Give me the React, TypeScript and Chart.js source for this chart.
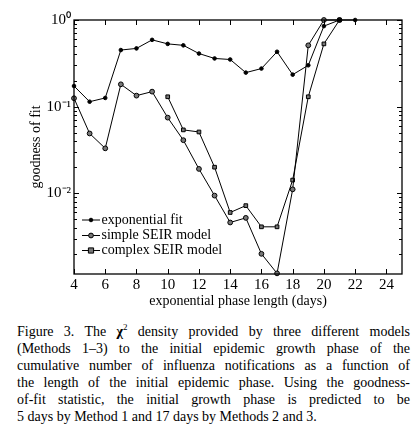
import React, { useEffect, useRef } from 'react';
import { Chart, registerables } from 'chart.js';

Chart.register(...registerables);

// ---- data ----
const expDays = [4, 5, 6, 7, 8, 9, 10, 11, 12, 13, 14, 15, 16, 17, 18, 19, 20, 21, 22];
const expFit = [0.173, 0.114, 0.126, 0.45, 0.47, 0.59, 0.53, 0.51, 0.41, 0.36, 0.35, 0.247, 0.275, 0.43, 0.234, 0.30, 0.85, 1.0, 1.0];

const simpleDays = [4, 5, 6, 7, 8, 9, 10, 11, 12, 13, 14, 15, 16, 17, 18, 19, 20, 21];
const simpleSEIR = [0.125, 0.049, 0.033, 0.181, 0.134, 0.149, 0.0747, 0.041, 0.0191, 0.0094, 0.0046, 0.0052, 0.0020, 0.00119, 0.0111, 0.51, 1.0, 1.0];

const complexDays = [10, 11, 12, 13, 14, 15, 16, 17, 18, 19, 20, 21];
const complexSEIR = [0.130, 0.0539, 0.051, 0.020, 0.0060, 0.0072, 0.0041, 0.0041, 0.0142, 0.13, 0.53, 1.0];

const seriesNames = ['exponential fit', 'simple SEIR model', 'complex SEIR model'];
const xTicks = [4, 6, 8, 10, 12, 14, 16, 18, 20, 22, 24];
const yTicks = [0.01, 0.1, 1];
const yTickLabels = ['10\u207B\u00B2', '10\u207B\u00B9', '10\u2070'];
const xTitle = 'exponential phase length (days)';
const yTitle = 'goodness of fit';

const SERIF = '"Liberation Serif", "Times New Roman", serif';

const toPoints = (xs: number[], ys: number[]) => xs.map((x, i) => ({ x, y: ys[i] }));

const pointStyles = [
  { style: 'circle', radius: 1.8, bg: '#000' },
  { style: 'circle', radius: 2.4, bg: '#777' },
  { style: 'rect', radius: 2.6, bg: '#777' },
];

const framePlugin = {
  id: 'frameTicks',
  afterDraw(chart: any) {
    const ctx = chart.ctx;
    const { left, right, top, bottom } = chart.chartArea;
    const xs = chart.scales.x;
    const ys = chart.scales.y;
    ctx.save();
    ctx.strokeStyle = '#000';
    ctx.lineWidth = 1;
    // x ticks inward top & bottom
    ctx.beginPath();
    xTicks.forEach((v) => {
      const px = Math.round(xs.getPixelForValue(v)) + 0.5;
      ctx.moveTo(px, bottom);
      ctx.lineTo(px, bottom - 5);
      ctx.moveTo(px, top);
      ctx.lineTo(px, top + 5);
    });
    // y ticks (major + minor)
    for (let d = -3; d <= 0; d++) {
      for (let m = 1; m <= 9; m++) {
        const v = m * Math.pow(10, d);
        if (v < ys.min || v > ys.max) continue;
        const py = Math.round(ys.getPixelForValue(v)) + 0.5;
        const len = m === 1 ? 5 : 3;
        ctx.moveTo(left, py);
        ctx.lineTo(left + len, py);
        ctx.moveTo(right, py);
        ctx.lineTo(right - len, py);
      }
    }
    ctx.stroke();
    ctx.lineWidth = 1.3;
    ctx.strokeRect(left, top, right - left, bottom - top);

    // legend
    const rows = [220, 235.5, 250.5];
    ctx.font = `14px ${SERIF}`;
    ctx.textBaseline = 'middle';
    ctx.fillStyle = '#000';
    rows.forEach((ry, i) => {
      ctx.lineWidth = 1;
      ctx.strokeStyle = '#000';
      ctx.beginPath();
      ctx.moveTo(82, ry);
      ctx.lineTo(100, ry);
      ctx.stroke();
      const ps = pointStyles[i];
      ctx.fillStyle = ps.bg;
      ctx.strokeStyle = '#000';
      ctx.beginPath();
      if (ps.style === 'rect') {
        ctx.rect(91 - ps.radius, ry - ps.radius, ps.radius * 2, ps.radius * 2);
      } else {
        ctx.arc(91, ry, ps.radius, 0, Math.PI * 2);
      }
      ctx.fill();
      ctx.stroke();
      ctx.fillStyle = '#000';
      ctx.fillText(seriesNames[i], 101.5, ry);
    });
    ctx.restore();
  },
};

function ChartView() {
  const ref = useRef<HTMLCanvasElement | null>(null);
  useEffect(() => {
    if (!ref.current) return;
    const datasets = [
      toPoints(expDays, expFit),
      toPoints(simpleDays, simpleSEIR),
      toPoints(complexDays, complexSEIR),
    ].map((data, i) => ({
      label: seriesNames[i],
      data,
      borderColor: '#000',
      borderWidth: 1,
      pointStyle: pointStyles[i].style,
      pointRadius: pointStyles[i].radius,
      pointBackgroundColor: pointStyles[i].bg,
      pointBorderColor: '#000',
      pointBorderWidth: 1,
      tension: 0,
      fill: false,
      clip: 4,
    }));
    const chart = new Chart(ref.current, {
      type: 'line',
      data: { datasets },
      plugins: [framePlugin],
      options: {
        animation: false,
        responsive: false,
        devicePixelRatio: 1,
        layout: { padding: { top: 20, right: 13, left: 0, bottom: 0 } },
        plugins: { legend: { display: false }, tooltip: { enabled: false } },
        scales: {
          x: {
            type: 'linear',
            min: 4,
            max: 25,
            grid: { display: false, drawTicks: false },
            border: { display: false },
            afterBuildTicks: (s: any) => { s.ticks = xTicks.map((v) => ({ value: v })); },
            afterFit: (s: any) => { s.height = 38; },
            ticks: {
              color: '#000',
              font: { family: SERIF, size: 15 },
              padding: 2,
              maxRotation: 0,
              autoSkip: false,
              callback: (v: any) => String(v),
            },
            title: {
              display: true,
              text: xTitle,
              color: '#000',
              font: { family: SERIF, size: 14 },
              padding: { top: 0, bottom: 2 },
            },
          },
          y: {
            type: 'logarithmic',
            min: 0.00117,
            max: 1,
            grid: { display: false, drawTicks: false },
            border: { display: false },
            afterBuildTicks: (s: any) => { s.ticks = yTicks.map((v) => ({ value: v })); },
            afterFit: (s: any) => { s.width = 74; },
            ticks: {
              color: '#000',
              font: { family: SERIF, size: 15 },
              padding: 3,
              autoSkip: false,
              callback: (v: any) => {
                const i = yTicks.findIndex((t) => Math.abs(t - v) / t < 1e-6);
                return i >= 0 ? yTickLabels[i] : '';
              },
            },
            title: {
              display: true,
              text: yTitle,
              color: '#000',
              font: { family: SERIF, size: 14 },
              padding: { top: 28, bottom: 0 },
            },
          },
        },
      },
    } as any);
    return () => chart.destroy();
  }, []);
  return <canvas ref={ref} width={415} height={312} style={{ display: 'block', width: 415, height: 312 }} />;
}

const captionLines = [
  <>Figure 3. The <b>χ</b><sup style={{ fontSize: '9px', lineHeight: 0 }}>2</sup> density provided by three different models</>,
  <>(Methods 1–3) to the initial epidemic growth phase of the</>,
  <>cumulative number of influenza notifications as a function of</>,
  <>the length of the initial epidemic phase. Using the goodness-</>,
  <>of-fit statistic, the initial growth phase is predicted to be</>,
  <>5 days by Method 1 and 17 days by Methods 2 and 3.</>,
];

export default function App() {
  return (
    <div style={{ position: 'absolute', left: 0, top: 0, width: 415, height: 433, background: '#fff', overflow: 'hidden' }}>
      <ChartView />
      <div style={{ position: 'absolute', left: 17, top: 323, width: 393, fontFamily: SERIF, fontSize: 14, lineHeight: '17.1px', color: '#000' }}>
        {captionLines.map((l, i) => (
          <div
            key={i}
            style={{
              textAlign: i === captionLines.length - 1 ? 'left' : 'justify',
              textAlignLast: i === captionLines.length - 1 ? 'left' : 'justify',
              whiteSpace: 'nowrap',
            } as any}
          >
            {l}
          </div>
        ))}
      </div>
    </div>
  );
}
